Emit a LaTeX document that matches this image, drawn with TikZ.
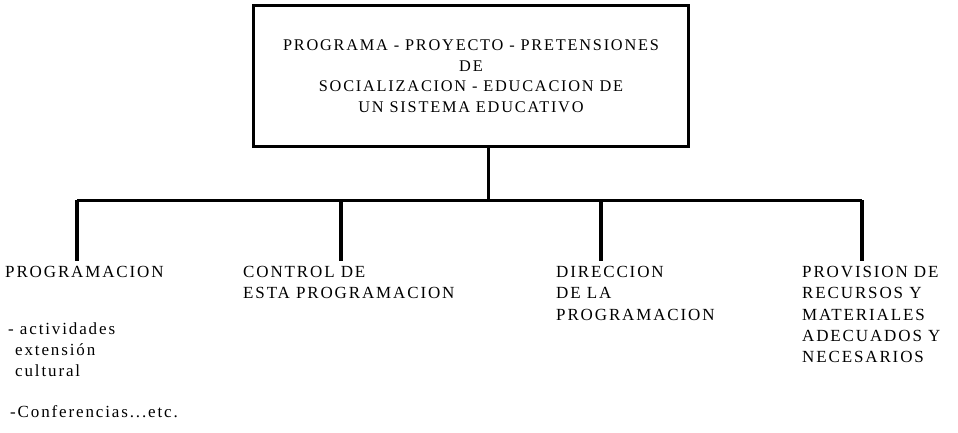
\documentclass[tikz,border=0pt]{standalone}
\usepackage{fontspec}
\setmainfont[LetterSpace=11]{Liberation Serif}
\usetikzlibrary{positioning}
\begin{document}
\begin{tikzpicture}[x=1pt,y=-1pt,
    box/.style={draw, line width=3pt, minimum width=435pt, minimum height=141pt, align=center, font=\fontsize{16.3}{20.5}\selectfont},
    label/.style={anchor=north west, align=left, inner sep=0pt, font=\fontsize{17}{21.3}\selectfont},
    branch/.style={line width=3pt},
    drop/.style={line width=3.5pt}
	]
		\useasboundingbox (0,0) rectangle (958,432);
		\node[box] (T) at (471,76) {
			PROGRAMA - PROYECTO - PRETENSIONES\\
			DE\\
			SOCIALIZACION - EDUCACION DE\\
			UN SISTEMA EDUCATIVO
		};
		\coordinate (J) at (488,200);
		\coordinate (J1) at (77,200);
		\coordinate (J2) at (341,200);
		\coordinate (J3) at (601,200);
		\coordinate (J4) at (862,200);

		\node[label] (A) at (5,266) {PROGRAMACION};
		\node[label] (At) at (8,322) {- actividades\\
			\hspace{7pt}extensión\\
			\hspace{7pt}cultural};
		\node[label] (Ac) at (10,405) {-Conferencias...etc.};

		\node[label] (B) at (243,266) {CONTROL DE\\ESTA PROGRAMACION};

		\node[label] (C) at (556,266) {DIRECCION\\DE LA\\PROGRAMACION};

		\node[label] (D) at (802,266) {PROVISION DE\\RECURSOS Y\\MATERIALES\\ADECUADOS Y\\NECESARIOS};

		\draw[branch] (T.south -| J) -- (J);
		\draw[branch] (J1) -- (J4);
		\draw[drop] (J1) -- ++(0,61);
		\draw[drop] (J2) -- ++(0,61);
		\draw[drop] (J3) -- ++(0,61);
		\draw[drop] (J4) -- ++(0,61);
	\end{tikzpicture}
\end{document}
